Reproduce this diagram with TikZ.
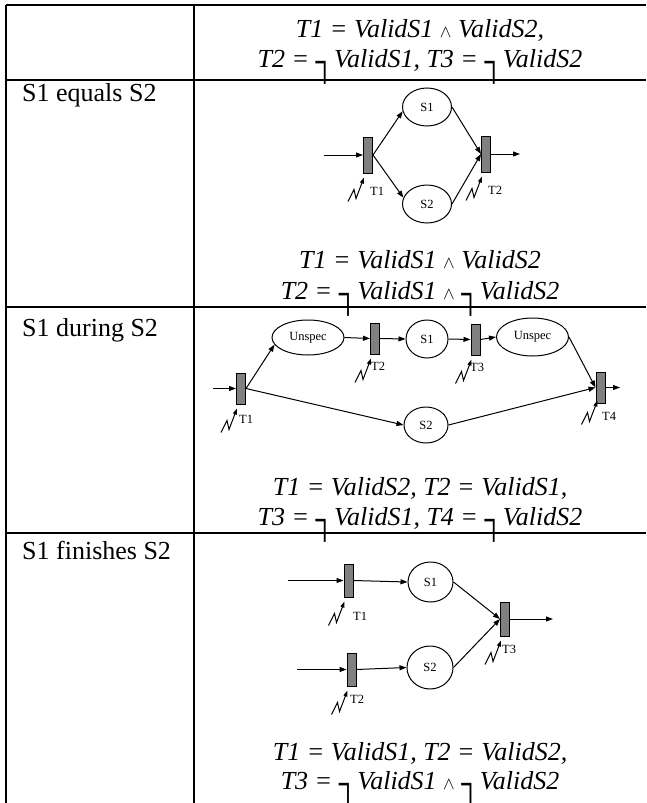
\documentclass[tikz,border=0pt]{standalone}
\usepackage{fontspec}
\usepackage{graphicx}
\setmainfont{Liberation Serif}
\usetikzlibrary{arrows.meta,shapes.geometric,positioning}
\definecolor{bargray}{RGB}{128,128,128}
\newcommand{\negC}{\raisebox{-0.24em}{\makebox[0.46em][l]{\scalebox{1}[1.38]{┐}}}}
\newcommand{\andC}{\scalebox{0.7}{$\wedge$}}

\tikzset{
  grid/.style={line width=2pt},
  arc/.style={line width=1pt,-{Triangle[length=7pt,width=5pt]}},
  place/.style={ellipse,draw,line width=1pt,fill=white,inner sep=0pt,font=\fontsize{12.5}{14}\selectfont},
  trans/.style={rectangle,draw,line width=1pt,fill=bargray,inner sep=0pt,minimum width=9pt,minimum height=33pt},
  lbl/.style={inner sep=0pt,anchor=west,font=\fontsize{12.5}{14}\selectfont},
  formula/.style={inner sep=0pt,anchor=base,font=\fontsize{26}{32}\selectfont\itshape},
  rowname/.style={inner sep=0pt,anchor=base west,font=\fontsize{26}{32}\selectfont},
  trigger/.pic={\draw[line width=1pt,-{Triangle[length=6pt,width=4pt]}] (-16,24) -- (-10,12) -- (-8,21) -- (0,0);}
}

\begin{document}
\begin{tikzpicture}[x=1pt,y=-1pt]
\useasboundingbox (0,0) rectangle (646,803);

%table
\foreach \y in {5,80,307,533}
  \draw[grid] (6,\y) -- (646,\y);
\draw[grid] (6,5) -- (6,803);
\draw[grid] (194,5) -- (194,803);

%header
\node[formula] (h1) at (420,37) {T1 = ValidS1 \andC{} ValidS2,};
\node[formula] (h2) at (420,67) {T2 = \negC{} ValidS1, T3 = \negC{} ValidS2};

%row 1
\node[rowname] (r1) at (22,101) {S1 equals S2};
\node[trans,minimum height=36pt] (a1) at (368,155) {};
\node[trans,minimum height=36pt] (a2) at (486,154) {};
\node[place,minimum width=49pt,minimum height=38pt] (as1) at (427,107) {S1};
\node[place,minimum width=49pt,minimum height=38pt] (as2) at (427,204) {S2};
\coordinate (ain) at (324,155);
\coordinate (aout) at (520,154);
\draw[arc] (ain) -- (a1.west);
\draw[arc] (a1.east) -- (as1.190);
\draw[arc] (a1.east) -- (as2.165);
\draw[arc] (as1.east) -- (a2.west);
\draw[arc] (as2.east) -- (a2.west);
\draw[arc] (a2.east) -- (aout);
\pic at ([shift={(1,4)}]a1.south west) {trigger};
\pic at ([shift={(1,4)}]a2.south west) {trigger};
\node[lbl] (a1l) at (370,191) {T1};
\node[lbl] (a2l) at (488,190) {T2};
\node[formula] (f1a) at (420,268) {T1 = ValidS1 \andC{} ValidS2};
\node[formula] (f1b) at (420,299) {T2 = \negC{} ValidS1 \andC{} \negC{} ValidS2};

%row 2
\node[rowname] (r2) at (22,336) {S1 during S2};
\node[trans,minimum height=31pt] (b1) at (241,388.5) {};
\node[trans,minimum height=31pt] (b2) at (375,338.5) {};
\node[trans,minimum height=31pt] (b3) at (475.5,339.5) {};
\node[trans,minimum height=31pt] (b4) at (600.5,387.5) {};
\node[place,minimum width=72pt,minimum height=35pt] (bu1) at (308,337.5) {Unspec};
\node[place,minimum width=42pt,minimum height=38pt] (bs1) at (427,339) {S1};
\node[place,minimum width=72pt,minimum height=38pt] (bu2) at (532.5,337) {Unspec};
\node[place,minimum width=44pt,minimum height=36pt] (bs2) at (426,425) {S2};
\coordinate (bin) at (213,388.5);
\coordinate (bout) at (620,387.5);
\draw[arc] (bin) -- (b1.west);
\draw[arc] (b1.east) -- (bu1.192);
\draw[arc] (b1.east) -- (bs2.west);
\draw[arc] (bu1.east) -- (b2.west);
\draw[arc] (b2.east) -- (bs1.west);
\draw[arc] (bs1.east) -- (b3.west);
\draw[arc] (b3.east) -- (bu2.west);
\draw[arc] (bu2.east) -- (b4.west);
\draw[arc] (bs2.east) -- (b4.west);
\draw[arc] (b4.east) -- (bout);
\pic at ([shift={(1,4)}]b1.south west) {trigger};
\pic at ([shift={(1,4)}]b2.south west) {trigger};
\pic at ([shift={(1,4)}]b3.south west) {trigger};
\pic at ([shift={(2,-3)}]b4.south west) {trigger};
\node[lbl] (b1l) at (239,419.5) {T1};
\node[lbl] (b2l) at (371,366) {T2};
\node[lbl] (b3l) at (470,367.5) {T3};
\node[lbl] (b4l) at (602,416) {T4};
\node[formula] (f2a) at (420,495) {T1 = ValidS2, T2 = ValidS1,};
\node[formula] (f2b) at (420,525) {T3 = \negC{} ValidS1, T4 = \negC{} ValidS2};

%row 3
\node[rowname] (r3) at (22,559) {S1 finishes S2};
\node[trans] (c1) at (348.5,580.5) {};
\node[trans] (c2) at (351.5,669.5) {};
\node[trans,minimum height=34pt] (c3) at (505,619) {};
\node[place,minimum width=45pt,minimum height=40pt] (cs1) at (430.5,582) {S1};
\node[place,minimum width=46pt,minimum height=43pt] (cs2) at (430,667.5) {S2};
\coordinate (cin1) at (288,580.5);
\coordinate (cin2) at (297,669.5);
\coordinate (cout) at (553,619);
\draw[arc] (cin1) -- (c1.west);
\draw[arc] (cin2) -- (c2.west);
\draw[arc] (c1.east) -- (cs1.west);
\draw[arc] (c2.east) -- (cs2.west);
\draw[arc] (cs1.east) -- (c3.west);
\draw[arc] (cs2.east) -- (c3.west);
\draw[arc] (c3.east) -- (cout);
\pic at ([shift={(1,4)}]c1.south west) {trigger};
\pic at ([shift={(1,4)}]c2.south west) {trigger};
\pic at ([shift={(1,4)}]c3.south west) {trigger};
\node[lbl] (c1l) at (353,616) {T1};
\node[lbl] (c2l) at (350,699.5) {T2};
\node[lbl] (c3l) at (502,649) {T3};
\node[formula] (f3a) at (420,760) {T1 = ValidS1, T2 = ValidS2,};
\node[formula] (f3b) at (420,789) {T3 = \negC{} ValidS1 \andC{} \negC{} ValidS2};
\end{tikzpicture}
\end{document}
